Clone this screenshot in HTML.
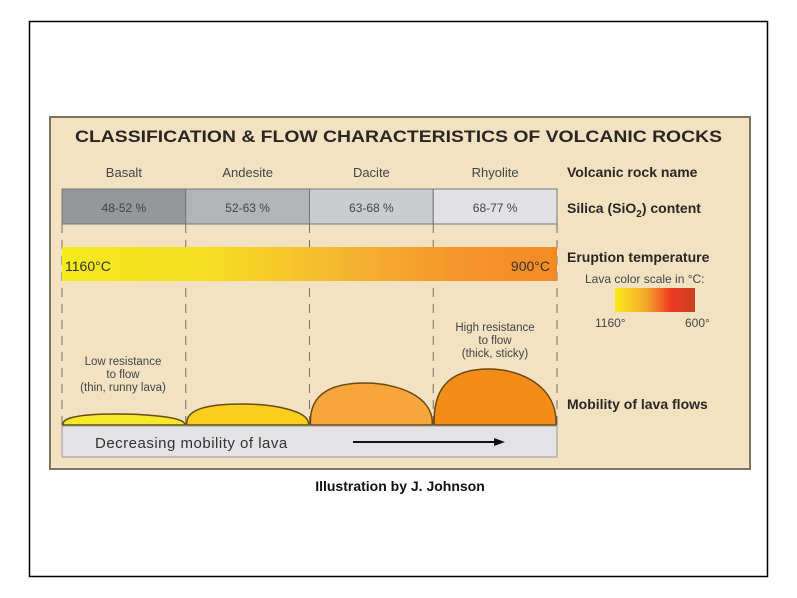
<!DOCTYPE html>
<html><head><meta charset="utf-8"><style>
html,body{margin:0;padding:0;background:#fff;}
svg{display:block;font-family:"Liberation Sans",sans-serif;}
</style></head><body>
<svg width="797" height="598" viewBox="0 0 797 598">
<defs>
<linearGradient id="tg" x1="0" x2="1" y1="0" y2="0">
<stop offset="0" stop-color="#f5ea1c"/><stop offset="0.3" stop-color="#f6dd22"/>
<stop offset="0.6" stop-color="#f5b131"/><stop offset="0.8" stop-color="#f5952a"/><stop offset="1" stop-color="#f48a24"/>
</linearGradient>
<linearGradient id="cg" x1="0" x2="1"><stop offset="0" stop-color="#f8ec1a"/><stop offset="0.4" stop-color="#f5a52c"/><stop offset="0.7" stop-color="#ee3a22"/><stop offset="1" stop-color="#c8421e"/></linearGradient>
</defs>
<rect x="29.5" y="21.5" width="738" height="555" fill="#fff" stroke="#000" stroke-width="1.5"/>
<rect x="50" y="117" width="700" height="352" fill="#f2e2c2" stroke="#7d7466" stroke-width="2"/>
<text x="75" y="142" textLength="647" lengthAdjust="spacingAndGlyphs" font-size="17" font-weight="bold" fill="#2a2622">CLASSIFICATION &amp; FLOW CHARACTERISTICS OF VOLCANIC ROCKS</text>
<g id="cols"></g>
<rect x="62" y="247" width="495" height="34" fill="url(#tg)"/>
<text x="65" y="271" font-size="14" fill="#333">1160°C</text>
<text x="550" y="271" text-anchor="end" font-size="14" fill="#333">900°C</text>
<g id="flows"></g>
<rect x="62" y="426" width="495" height="31" fill="#e3e3e5" stroke="#999"/>
<text x="95" y="448" font-size="15" fill="#333" letter-spacing="0.5">Decreasing mobility of lava</text>
<line x1="353" y1="442" x2="498" y2="442" stroke="#111" stroke-width="2"/>
<polygon points="505,442 494,438 494,446" fill="#111"/>
<text x="123" y="365" text-anchor="middle" font-size="11.5" fill="#444"><tspan x="123">Low resistance</tspan><tspan x="123" dy="13">to flow</tspan><tspan x="123" dy="13">(thin, runny lava)</tspan></text>
<text x="495" y="331" text-anchor="middle" font-size="11.5" fill="#444"><tspan x="495">High resistance</tspan><tspan x="495" dy="13">to flow</tspan><tspan x="495" dy="13">(thick, sticky)</tspan></text>
<g font-size="14" font-weight="bold" fill="#2a2622">
<text x="567" y="177">Volcanic rock name</text>
<text x="567" y="213">Silica (SiO<tspan font-size="10" dy="4">2</tspan><tspan dy="-4">) content</tspan></text>
<text x="567" y="262">Eruption temperature</text>
<text x="567" y="409">Mobility of lava flows</text>
</g>
<text x="585" y="283" font-size="12" fill="#444">Lava color scale in °C:</text>
<rect x="615" y="288" width="80" height="24" fill="url(#cg)"/>
<text x="595" y="327" font-size="12" fill="#444">1160°</text>
<text x="685" y="327" font-size="12" fill="#444">600°</text>
<text x="400" y="491" text-anchor="middle" font-size="14" font-weight="bold" fill="#111">Illustration by J. Johnson</text>
</svg>
<script>
const rocks=["Basalt","Andesite","Dacite","Rhyolite"];
const silica=["48-52 %","52-63 %","63-68 %","68-77 %"];
const flowHeights=[11,21,42,56];
const flowColors=["#f3ea2a","#f7cf1c","#f6a63a","#f48d18"];
const ns="http://www.w3.org/2000/svg";
const x0=62,x1=557,colW=(x1-x0)/rocks.length,base=425,hScale=1;
const xs=i=>x0+i*colW;
const cols=document.getElementById('cols'),flows=document.getElementById('flows');
function mk(tag,attrs,parent){const e=document.createElementNS(ns,tag);for(const k in attrs)e.setAttribute(k,attrs[k]);parent.appendChild(e);return e;}
const grays=["#96979a","#b3b4b7","#cbcccf","#e2e2e4"];
rocks.forEach((r,i)=>{
 const t=mk('text',{x:xs(i)+colW/2,y:177,'text-anchor':'middle','font-size':13,fill:'#444'},cols);
 t.textContent=r;
 
 
 const c=mk('rect',{x:xs(i),y:189,width:colW,height:35,fill:grays[i],stroke:'#777'},cols);
 
 
 const s=mk('text',{x:xs(i)+colW/2,y:212,'text-anchor':'middle','font-size':12,fill:'#444'},cols);
 s.textContent=silica[i];
 
 
});
for(let i=0;i<=rocks.length;i++){
 const l=mk('line',{x1:xs(i),x2:xs(i),y1:224,y2:425,stroke:'#7a6f60','stroke-dasharray':'9,7','stroke-width':1},cols);
 
 
}
rocks.forEach((r,i)=>{
 const a=xs(i)+1,b=xs(i+1)-1,h=flowHeights[i]*hScale,w=b-a;
 const d=`M${a},${base} C${a-2},${base-h*0.8} ${a+w*0.2},${base-h} ${a+w*0.45},${base-h} S${b+2},${base-h*0.7} ${b},${base} Z`;
 const p=mk('path',{d:d,fill:flowColors[i],stroke:'#6b4a10','stroke-width':1.5},flows);
 
 
});
</script>
</body></html>
